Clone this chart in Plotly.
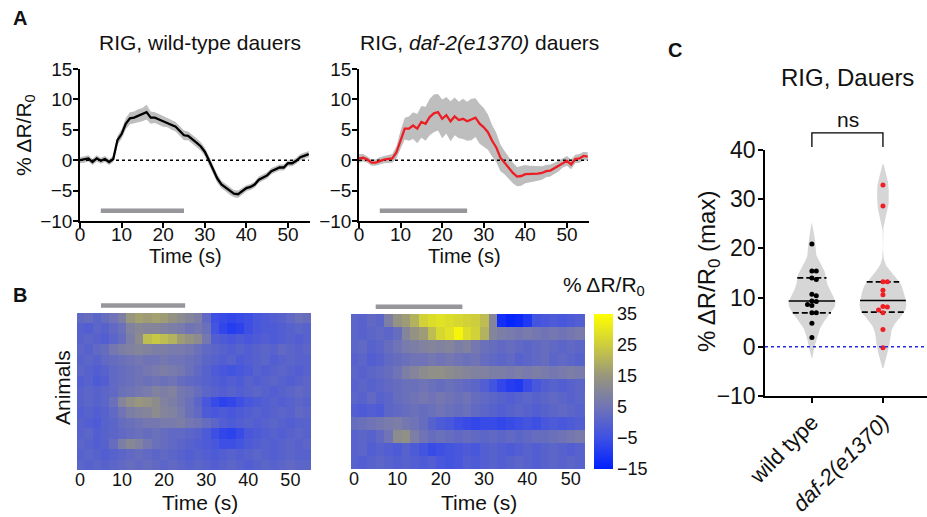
import numpy as np
import plotly.graph_objects as go

# ---------------- data ----------------
time_s = list(range(0, 56))
wt_mean = [0.0, 0.1, 0.3, -0.3, 0.3, -0.1, 0.2, -0.3, 0.2, 3.3,
           4.3, 6.0, 6.9, 7.0, 7.3, 7.5, 7.9, 7.0, 7.0, 6.7,
           6.4, 6.2, 5.8, 5.5, 4.8, 4.1, 4.0, 3.5, 2.9, 2.3,
           1.4, 0.0, -1.6, -3.0, -4.0, -4.5, -5.1, -5.5, -5.6, -5.1,
           -4.6, -4.4, -4.0, -3.2, -2.9, -2.5, -1.8, -1.5, -1.2, -1.2,
           -0.5, -0.5, -0.1, 0.5, 0.8, 1.0]
wt_sem = [0.5] * 9 + [0.7, 0.8, 0.9, 1.0, 1.0, 1.1, 1.1, 1.2, 1.0, 0.9, 0.9,
                      0.9, 0.8, 0.8, 0.8, 0.8, 0.8, 0.7, 0.7, 0.7, 0.7,
                      0.7, 0.7, 0.7, 0.7, 0.6, 0.6, 0.6, 0.6, 0.6, 0.5] + [0.5] * 16
daf2_mean = [0.3, 0.4, 0.1, -0.4, -0.4, -0.1, 0.1, 0.2, 0.3, 1.3,
             3.4, 5.2, 5.2, 5.7, 5.2, 6.3, 6.0, 7.1, 7.7, 7.9,
             6.8, 7.4, 6.4, 7.2, 6.6, 6.8, 6.4, 6.7, 7.0, 6.0,
             5.4, 4.6, 3.2, 2.1, 0.4, -0.4, -1.3, -2.1, -2.7, -2.6,
             -2.3, -2.3, -2.2, -2.2, -2.1, -1.8, -1.7, -1.3, -0.9, -0.4,
             -0.1, -0.7, 0.2, 0.3, 0.7, 0.6]
daf2_sem = [0.7, 0.6, 0.5, 0.5, 0.5, 0.6, 0.6, 0.6, 0.7,
            1.0, 1.5, 1.8, 2.0, 2.2, 2.4, 2.6, 2.8, 3.0, 3.1,
            3.0, 3.2, 3.0, 3.3, 3.1, 3.0, 3.3, 3.2, 3.4, 3.2,
            3.3, 3.2, 2.9, 2.6, 2.4, 2.2, 1.9, 1.8, 1.7, 1.6,
            1.6, 1.5, 1.4, 1.3, 1.2, 1.1, 1.0, 1.0, 0.9, 0.9,
            0.8, 0.8, 0.8, 0.7, 0.7, 0.7, 0.7]
stim_wt = [5, 25]
stim_daf2 = [5, 26]
stim_heat = [5, 25]

heat_time = list(range(0, 56, 2))
wt_heat = [
    [2, 3, 1, 3, 5, 8, 15, 17, 16, 17, 16, 14, 12, 10, 8, 2, -5, -6, -7, -6, -5, -3, -2, -1, 0, 2, 4, 3],
    [0, -1, 1, 0, 2, 4, 9, 11, 10, 10, 9, 8, 7, 5, 6, 4, -4, -7, -9, -8, -5, -3, -2, -2, -1, 0, 1, 0],
    [0, 1, 0, -1, 1, 3, 8, 12, 22, 24, 22, 20, 16, 14, 12, 6, -1, -2, -3, -2, -3, -2, -1, -2, -1, 0, -1, 0],
    [1, 0, 2, 3, 6, 8, 9, 10, 9, 8, 8, 7, 7, 6, 4, 2, 1, 0, -1, 0, -1, 0, 1, 0, 2, 1, 0, 1],
    [0, 1, 0, 2, 3, 4, 5, 6, 5, 5, 6, 5, 5, 4, 3, 1, 0, -1, 0, -2, -1, 0, 1, -1, 0, 1, 0, 0],
    [1, 0, -1, 0, 2, 3, 4, 5, 6, 7, 8, 7, 6, 4, 2, 0, -2, -3, -4, -3, -2, 0, -1, 0, 1, 0, -1, 0],
    [-1, 0, -2, -1, 2, 3, 4, 5, 4, 5, 4, 5, 3, 2, 1, 0, -1, -2, -1, -2, 0, -1, 0, 1, 0, -1, 0, 1],
    [0, 1, 0, 1, 2, 4, 5, 6, 7, 9, 8, 9, 6, 5, 3, 1, 0, -1, 0, -1, 0, 1, 0, -1, 0, 1, 2, 1],
    [0, 1, 0, 1, 4, 10, 13, 15, 14, 12, 9, 8, 6, 4, 1, -3, -6, -8, -7, -5, -3, -2, -1, 0, -1, 0, 1, 0],
    [-1, 0, -1, 0, 2, 5, 8, 9, 10, 12, 10, 9, 7, 4, 2, -2, -3, -2, -3, -2, -1, 0, -1, 0, 1, 0, 2, 1],
    [0, -1, -2, 0, 1, 3, 4, 5, 6, 6, 7, 7, 8, 6, 5, 3, 1, -1, -2, -1, 0, -1, 0, 1, 0, -1, 0, 0],
    [0, 1, -1, 0, 1, 2, 3, 4, 3, 4, 3, 2, 2, 1, 0, -2, -5, -7, -8, -6, -3, -2, -1, 0, -1, 0, 1, 0],
    [1, 0, -1, 0, 3, 8, 11, 9, 6, 4, 3, 2, 1, 0, -1, -2, -3, -5, -5, -4, -2, -1, 0, -1, 0, 1, 0, 1],
    [0, 1, 0, -1, 0, 1, 2, 3, 2, 1, 2, 1, 0, -1, 0, -1, -2, -1, 0, -1, 0, 1, 0, -1, 0, 1, 0, 0],
    [1, 0, 1, 0, 1, 2, 3, 2, 3, 2, 1, 2, 1, 0, 1, 0, -1, 0, 1, 0, -1, 0, 1, 0, 1, 2, 1, 1],
]
daf2_heat = [
    [1, 0, 2, 1, 8, 14, 16, 20, 26, 28, 29, 28, 27, 26, 25, 22, 10, -12, -14, -13, -10, -4, -3, -2, -3, -2, -1, 0],
    [1, 0, 1, 2, 1, 3, 10, 14, 16, 22, 27, 29, 33, 28, 26, 20, 10, 8, 7, 6, 7, 6, 5, 6, 5, 6, 7, 6],
    [1, 2, 0, 1, 3, 5, 7, 8, 9, 10, 9, 10, 8, 9, 6, 4, 3, 2, 3, 2, 1, 2, 3, 2, 1, 2, 1, 0],
    [0, 1, -1, 0, 2, 3, 4, 5, 5, 6, 5, 6, 5, 4, 5, 3, 2, 1, 2, 0, 1, 2, 3, 1, 2, 1, 0, 1],
    [1, 0, 1, 2, 3, 5, 8, 10, 12, 13, 13, 12, 11, 10, 9, 9, 8, 8, 7, 8, 7, 8, 7, 6, 7, 8, 7, 6],
    [0, 1, 0, 1, 2, 3, 4, 4, 5, 4, 3, 4, 3, 2, 1, -1, -4, -7, -9, -10, -6, -3, -1, 0, -1, 0, 1, 0],
    [1, 0, 2, 0, 1, 3, 4, 5, 6, 5, 6, 5, 4, 5, 3, 2, 1, 0, -1, 0, 1, 0, 1, 2, 1, 0, 1, 2],
    [-1, -2, -1, -2, 1, 2, 3, 4, 3, 4, 5, 4, 3, 4, 2, 1, 0, -1, 0, 1, 0, -1, 0, 1, 2, 1, 0, 1],
    [3, 4, 5, 6, 7, 8, 6, 5, 3, 0, -2, -3, -5, -6, -7, -6, -6, -7, -6, -5, -4, -5, -3, -2, -3, -2, -1, -2],
    [0, 1, 0, 2, 5, 12, 13, 8, 5, 3, 4, 3, 2, 3, 2, 1, 2, 1, 2, 1, 2, 3, 3, 4, 5, 6, 7, 6],
    [0, 1, -1, 0, -1, -2, 0, -2, -4, -6, -5, -4, -3, -2, -3, -1, 0, -1, -2, -1, 0, -1, 0, 1, 0, -1, 0, 1],
    [0, -1, 0, 1, 0, -1, 0, -1, -2, -1, -3, -4, -3, -1, -2, -1, 0, -1, 0, 1, 0, -1, 0, 1, 0, 1, 0, 0],
]

categories = ["wild type", "<i>daf-2(e1370)</i>"]
wt_max = [20.9, 15.4, 15.4, 14.0, 13.7, 10.7, 10.4, 9.3, 9.2, 8.6, 8.4, 6.9, 6.9, 4.8, 1.9]
daf2_max = [32.9, 28.6, 13.2, 13.2, 11.5, 10.6, 8.2, 8.1, 7.5, 6.9, 3.5, -0.2]

# ---------------- layout helpers ----------------
W, H = 927, 517
FONT = "Liberation Sans, Arial, sans-serif"
TXT = "#111111"


def px_x(p):
    return p / W


def px_y(p):
    return 1 - p / H


fig = go.Figure()

# ---------------- Panel A ----------------
def trace_panel(xa, ya, mean, sem, color, stim):
    t = np.array(time_s, float)
    m = np.array(mean)
    s = np.array(sem)
    fig.add_trace(go.Scatter(x=np.r_[t, t[::-1]], y=np.r_[m + s, (m - s)[::-1]],
                             fill="toself", fillcolor="rgb(190,190,190)", line=dict(width=0),
                             mode="lines", hoverinfo="skip", showlegend=False, xaxis=xa, yaxis=ya))
    fig.add_trace(go.Scatter(x=[0, 55], y=[0, 0], mode="lines",
                             line=dict(color="black", width=1.5, dash="dot"),
                             showlegend=False, xaxis=xa, yaxis=ya))
    fig.add_trace(go.Scatter(x=t, y=m, mode="lines", line=dict(color=color, width=2.3),
                             showlegend=False, xaxis=xa, yaxis=ya))
    fig.add_trace(go.Scatter(x=stim, y=[-8.3, -8.3], mode="lines",
                             line=dict(color="rgb(150,150,155)", width=4.5),
                             showlegend=False, xaxis=xa, yaxis=ya))


trace_panel("x", "y", wt_mean, wt_sem, "black", stim_wt)
trace_panel("x2", "y2", daf2_mean, daf2_sem, "rgb(235,30,35)", stim_daf2)


def axis_style(size, standoff=0):
    return dict(showgrid=False, zeroline=False, showline=True, linecolor="black", linewidth=1.5,
                ticks="outside", ticklen=5, tickwidth=1.5, tickcolor="black", automargin=False,
                ticklabelstandoff=standoff,
                tickfont=dict(size=size, color=TXT, family=FONT))


fig.update_layout(
    xaxis=dict(domain=[px_x(80), px_x(310)], range=[0, 55.3], tickvals=list(range(0, 51, 10)),
               anchor="y", **axis_style(19, -10)),
    yaxis=dict(domain=[px_y(221), px_y(69)], range=[-10, 15], tickvals=list(range(-10, 16, 5)),
               anchor="x", **axis_style(19, -3)),
    xaxis2=dict(domain=[px_x(359), px_x(589)], range=[0, 55.3], tickvals=list(range(0, 51, 10)),
                anchor="y2", **axis_style(19, -10)),
    yaxis2=dict(domain=[px_y(221), px_y(69)], range=[-10, 15], tickvals=list(range(-10, 16, 5)),
                anchor="x2", **axis_style(19, -3)),
)

# ---------------- Panel B ----------------
colorscale = [[0.0, "rgb(0,32,255)"], [0.2, "rgb(62,80,228)"], [0.4, "rgb(112,116,182)"],
              [0.6, "rgb(152,150,125)"], [0.8, "rgb(205,205,62)"], [1.0, "rgb(255,255,0)"]]

fig.add_trace(go.Heatmap(z=wt_heat, x=heat_time, y=list(range(1, len(wt_heat) + 1)),
                         colorscale=colorscale, zmin=-15, zmax=35, showscale=False,
                         xaxis="x3", yaxis="y3"))
fig.add_trace(go.Heatmap(z=daf2_heat, x=heat_time, y=list(range(1, len(daf2_heat) + 1)),
                         colorscale=colorscale, zmin=-15, zmax=35,
                         colorbar=dict(x=px_x(594), xanchor="left", xpad=0, thickness=19,
                                       len=155 / H, lenmode="fraction", y=px_y(314), yanchor="top",
                                       ypad=0, outlinewidth=0, tickvals=[-15, -5, 5, 15, 25, 35],
                                       ticks="", tickfont=dict(size=18, color=TXT, family=FONT)),
                         xaxis="x4", yaxis="y4"))

heat_x = dict(showgrid=False, zeroline=False, showline=False, ticks="", automargin=False,
              ticklabelstandoff=-3,
              tickvals=list(range(0, 51, 10)), tickfont=dict(size=18, color=TXT, family=FONT))
heat_y = dict(showgrid=False, zeroline=False, showline=False, showticklabels=False, ticks="",
              automargin=False, autorange="reversed")
fig.update_layout(
    xaxis3=dict(domain=[px_x(77), px_x(311)], range=[-0.7, 54.9], anchor="y3", **heat_x),
    yaxis3=dict(domain=[px_y(470), px_y(313)], anchor="x3", **heat_y),
    xaxis4=dict(domain=[px_x(351), px_x(585)], range=[-0.7, 53.3], anchor="y4", **heat_x),
    yaxis4=dict(domain=[px_y(469), px_y(314)], anchor="x4", **heat_y),
)

shapes = []
for xr in ("x3", "x4"):
    shapes.append(dict(type="line", xref=xr, yref=xr.replace("x", "y") + " domain",
                       x0=stim_heat[0], x1=stim_heat[1], y0=1.047, y1=1.047,
                       line=dict(color="rgb(150,150,155)", width=4.5)))

# ---------------- Panel C ----------------
C_RANGE_Y = [-10, 40]
C_DOM_Y = [px_y(396), px_y(150)]
C_RANGE_X = [-0.66, 1.62]
BW = 2.1
HALF_W = 0.33


def kde(vals, grid):
    v = np.asarray(vals, float)[:, None]
    return np.exp(-0.5 * ((grid[None, :] - v) / BW) ** 2).sum(0)


def swarm(vals, d_px=4.4, sx=71.0, sy=4.92):
    vals = np.asarray(vals, float)
    order = np.argsort(-vals, kind="stable")
    placed = []
    offs = np.zeros(len(vals))
    for i in order:
        y = vals[i] * sy
        chosen = 0.0
        for k in range(0, 30):
            cands = [0.0] if k == 0 else [k * d_px / 2, -k * d_px / 2]
            hit = None
            for c in cands:
                if all((c - p) ** 2 + (y - q) ** 2 >= d_px ** 2 * 0.98 for p, q in placed):
                    hit = c
                    break
            if hit is not None:
                chosen = hit
                break
        placed.append((chosen, y))
        offs[i] = chosen / sx
    return offs


for pos, vals, col in ((0, wt_max, "black"), (1, daf2_max, "rgb(240,30,35)")):
    vals = np.asarray(vals, float)
    grid = np.linspace(vals.min() - 2 * BW, vals.max() + 2 * BW, 300)
    dens = kde(vals, grid)
    scale = HALF_W / dens.max()
    hw = dens * scale
    xs = np.r_[pos, pos + hw, pos, (pos - hw)[::-1], pos]
    ys = np.r_[grid[0], grid, grid[-1], grid[::-1], grid[0]]
    fig.add_trace(go.Scatter(x=xs, y=ys, fill="toself", fillcolor="rgb(214,214,214)",
                             line=dict(width=0), mode="lines", showlegend=False,
                             hoverinfo="skip", xaxis="x5", yaxis="y5"))
    q1, med, q3 = np.percentile(vals, [25, 50, 75], method="weibull")
    for q, dash in ((med, "solid"), (q1, "6px,3px"), (q3, "6px,3px")):
        w = kde(vals, np.array([q]))[0] * scale
        fig.add_trace(go.Scatter(x=[pos - w, pos + w], y=[q, q], mode="lines",
                                 line=dict(color="black", width=1.6, dash=dash),
                                 showlegend=False, xaxis="x5", yaxis="y5"))
    offs = swarm(vals)
    fig.add_trace(go.Scatter(x=pos + offs, y=vals, mode="markers",
                             marker=dict(color=col, size=5), showlegend=False,
                             xaxis="x5", yaxis="y5"))

fig.add_trace(go.Scatter(x=C_RANGE_X, y=[0, 0], mode="lines",
                         line=dict(color="rgb(40,40,225)", width=1.5, dash="dot"),
                         showlegend=False, xaxis="x5", yaxis="y5"))

fig.update_layout(
    xaxis5=dict(domain=[px_x(765), 1.0], range=C_RANGE_X, tickvals=[0, 1], ticktext=categories,
                tickangle=-45, anchor="y5", **axis_style(22, -2)),
    yaxis5=dict(domain=C_DOM_Y, range=C_RANGE_Y, tickvals=list(range(-10, 41, 10)),
                anchor="x5", **axis_style(23, -2)),
)


def c_paper_y(v):
    return C_DOM_Y[0] + (v - C_RANGE_Y[0]) / (C_RANGE_Y[1] - C_RANGE_Y[0]) * (C_DOM_Y[1] - C_DOM_Y[0])


shapes.append(dict(type="path", xref="x5", yref="paper",
                   path=f"M 0,{c_paper_y(40.6)} L 0,{c_paper_y(43.5)} L 1,{c_paper_y(43.5)} L 1,{c_paper_y(40.6)}",
                   line=dict(color="black", width=1.3)))

# ---------------- text ----------------
def ann(text, x, y, size=18, angle=0, bold=False, **kw):
    if bold:
        text = f"<b>{text}</b>"
    return dict(text=text, x=px_x(x), y=px_y(y), xref="paper", yref="paper", showarrow=False,
                xanchor=kw.pop("xanchor", "center"), yanchor=kw.pop("yanchor", "middle"),
                textangle=angle, font=dict(size=size, color=TXT, family=FONT), **kw)


annotations = [
    ann("A", 20, 18, size=20, bold=True),
    ann("B", 20, 295, size=20, bold=True),
    ann("C", 675, 50, size=20, bold=True),
    ann("RIG, wild-type dauers", 200, 42, size=21),
    ann("RIG, <i>daf-2(e1370)</i> dauers", 479, 42, size=21),
    ann("% ΔR/R<sub>0</sub>", 25, 135, size=21, angle=-90),
    ann("Time (s)", 185, 256, size=20),
    ann("Time (s)", 464, 256, size=20),
    ann("Animals", 62, 388, size=21, angle=-90),
    ann("Time (s)", 200, 502, size=21),
    ann("Time (s)", 479, 502, size=21),
    ann("% ΔR/R<sub>0</sub>", 604, 286, size=21),
    ann("RIG, Dauers", 847, 77, size=24),
    ann("ns", 848, 120, size=21),
    ann("% ΔR/R<sub>0</sub> (max)", 708, 272, size=24, angle=-90),
]

fig.update_layout(width=W, height=H, margin=dict(l=0, r=0, t=0, b=0, autoexpand=False),
                  paper_bgcolor="white", plot_bgcolor="white",
                  font=dict(family=FONT, color=TXT), shapes=shapes, annotations=annotations,
                  showlegend=False)

fig.write_html("out.html", config={"displayModeBar": False},
               post_script="document.body.style.margin='0px';")
